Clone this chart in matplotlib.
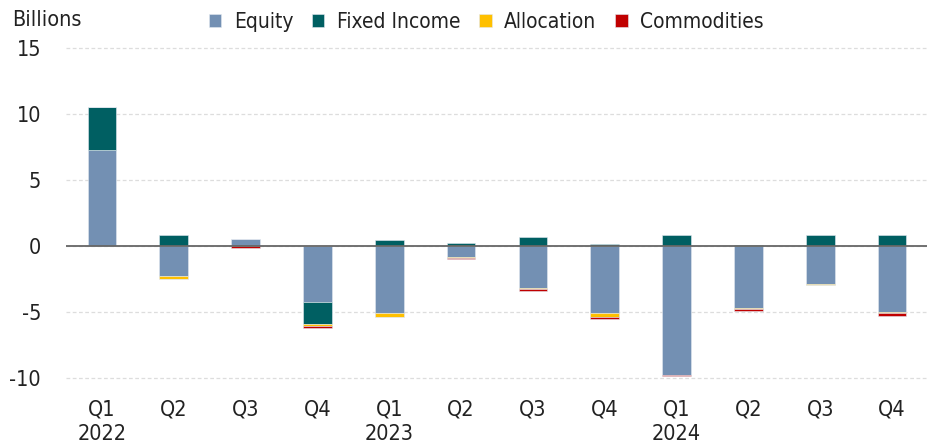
import numpy as np
import matplotlib
matplotlib.use("Agg")
import matplotlib.pyplot as plt

plt.rcParams['font.family'] = ['DejaVu Sans']
plt.rcParams['font.stretch'] = 'condensed'
plt.rcParams['axes.unicode_minus'] = False

quarters = ['Q1\n2022', 'Q2', 'Q3', 'Q4', 'Q1\n2023', 'Q2', 'Q3', 'Q4',
            'Q1\n2024', 'Q2', 'Q3', 'Q4']

# flows, billions
equity = [7.3, -2.25, 0.55, -4.25, -5.05, -0.82, -3.15, -5.05, -9.75, -4.7, -2.85, -5.0]
fixed_income = [3.2, 0.85, 0.0, -1.65, 0.45, 0.25, 0.65, 0.15, 0.8, 0.08, 0.83, 0.85]
allocation = [0.0, -0.22, -0.03, -0.15, -0.3, -0.12, -0.12, -0.3, -0.03, -0.1, -0.1, -0.1]
commodities = [0.0, -0.03, -0.15, -0.18, -0.03, -0.07, -0.1, -0.15, -0.1, -0.1, -0.02, -0.18]

series = [('Equity', equity, '#7390b3'),
          ('Fixed Income', fixed_income, '#005f62'),
          ('Allocation', allocation, '#ffc000'),
          ('Commodities', commodities, '#c00000')]

fig = plt.figure(figsize=(9.28, 4.46), dpi=100)
ax = fig.add_axes([66 / 928, 0.1377, 1 - 66 / 928, 0.901 - 0.1377])

x = np.arange(len(quarters))
pos_bottom = np.zeros(len(quarters))
neg_bottom = np.zeros(len(quarters))
for name, vals, color in series:
    vals = np.array(vals)
    bottom = np.where(vals >= 0, pos_bottom, neg_bottom)
    ax.bar(x, vals, 0.4, bottom=bottom, color=color, label=name,
           edgecolor='#e3e9f0', linewidth=0.4, zorder=3)
    pos_bottom += np.where(vals >= 0, vals, 0)
    neg_bottom += np.where(vals < 0, vals, 0)

ax.set_xlim(-0.5, 11.5)
ax.set_ylim(-10.5, 15.3)
ax.set_yticks([-10, -5, 0, 5, 10, 15])
ax.set_xticks(x)
ax.set_xticklabels(quarters, linespacing=1.25)
ax.tick_params(axis='both', length=0, labelsize=15.5, colors='#222222')
ax.tick_params(axis='x', pad=11)
ax.tick_params(axis='y', pad=18)
for s in ax.spines.values():
    s.set_visible(False)
ax.yaxis.grid(True, linestyle=(0, (3, 2)), color='#dddddd', linewidth=0.9, zorder=0)
ax.axhline(0, color='#666666', linewidth=1.3, zorder=4)

fig.text(12 / 928, 0.955, 'Billions', fontsize=15.5, va='center', color='#222222')
ax.legend(loc='center', bbox_to_anchor=(0.524, 0.951), bbox_transform=fig.transFigure,
          ncol=4, frameon=False, fontsize=15, handlelength=0.6, handleheight=0.6,
          handletextpad=0.6, columnspacing=0.9, borderpad=0,
          labelcolor='#222222')

plt.savefig('out.png', dpi=100)
